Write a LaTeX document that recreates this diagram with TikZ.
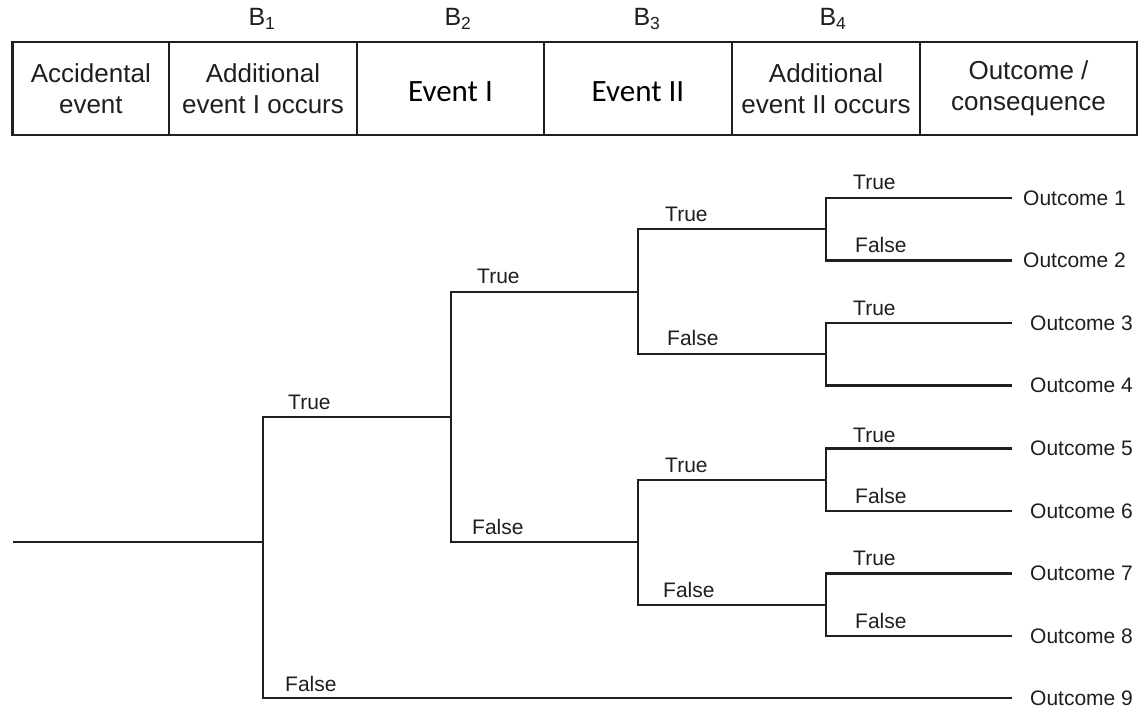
\documentclass[tikz,border=0pt]{standalone}
\usepackage{fontspec}
\setmainfont{Liberation Sans}
\newfontfamily\eventfont{Carlito}
\begin{document}
\begin{tikzpicture}[x=1pt,y=-1pt,
  inkcol/.style={draw=black!88},
  branch/.style={inkcol, line width=2.4pt, line join=miter},
  cell/.style={inkcol, line width=2.6pt, minimum height=93pt, inner sep=0pt,
    align=center, text=black!88, font=\fontsize{26}{31}\selectfont},
  evcell/.style={cell, text height=27pt, text depth=0pt,
    font=\eventfont\fontsize{31}{36}\selectfont, text=black},
  barrier/.style={anchor=base, inner sep=0pt, text=black!88, font=\fontsize{25}{29}\selectfont},
  lab/.style={anchor=base west, inner sep=0pt, text=black!88, font=\fontsize{21}{25}\selectfont},
  outc/.style={anchor=west, inner ysep=0pt, text=black!88, font=\fontsize{21}{25}\selectfont},
]
\useasboundingbox[fill=white] (0,0) rectangle (1140,708);

% header row of the event tree
\node[cell, minimum width=156.3pt] (c1) at (90.85,88.5) {Accidental\\event};
\node[cell, minimum width=188pt]   (c2) at (263,88.5)   {Additional\\event I occurs};
\node[evcell, minimum width=187pt] (c3) at (450.5,88.5) {Event I};
\node[evcell, minimum width=188pt] (c4) at (638,88.5)   {Event II};
\node[cell, minimum width=188pt]   (c5) at (826,88.5)   {Additional\\event II occurs};
\node[cell, minimum width=217pt]   (c6) at (1028.5,88.5) {Outcome /\\consequence};

% barrier labels
\node[barrier] (b1) at (262,26) {B\textsubscript{1}};
\node[barrier] (b2) at (458,26) {B\textsubscript{2}};
\node[barrier] (b3) at (647,26) {B\textsubscript{3}};
\node[barrier] (b4) at (833,26) {B\textsubscript{4}};

% branching points
\coordinate (r0)  at (13,542);
\coordinate (n1)  at (263,542);
\coordinate (n2)  at (451,417);
\coordinate (n3a) at (638,292);
\coordinate (n3b) at (638,542);
\coordinate (n4a) at (826,229);
\coordinate (n4b) at (826,354);
\coordinate (n4c) at (826,480);
\coordinate (n4d) at (826,605);

% outcomes
\node[outc, inner xsep=11pt] (o1) at (1012,198)   {Outcome 1};
\node[outc, inner xsep=11pt] (o2) at (1012,260.5) {Outcome 2};
\node[outc, inner xsep=18pt] (o3) at (1012,323)   {Outcome 3};
\node[outc, inner xsep=18pt] (o4) at (1012,385.5) {Outcome 4};
\node[outc, inner xsep=18pt] (o5) at (1012,448.5) {Outcome 5};
\node[outc, inner xsep=18pt] (o6) at (1012,511)   {Outcome 6};
\node[outc, inner xsep=18pt] (o7) at (1012,573.5) {Outcome 7};
\node[outc, inner xsep=18pt] (o8) at (1012,636)   {Outcome 8};
\node[outc, inner xsep=18pt] (o9) at (1012,698)   {Outcome 9};

% tree branches
\draw[branch] (r0) -- (n1);
\draw[branch] (n1) |- (n2);
\draw[branch] (n1) |- (o9.west);
\draw[branch] (n2) |- (n3a);
\draw[branch] (n2) |- (n3b);
\draw[branch] (n3a) |- (n4a);
\draw[branch] (n3a) |- (n4b);
\draw[branch] (n3b) |- (n4c);
\draw[branch] (n3b) |- (n4d);
\draw[branch] (n4a) |- (o1.west);
\draw[branch] (n4a) |- (o2.west);
\draw[branch] (n4b) |- (o3.west);
\draw[branch] (n4b) |- (o4.west);
\draw[branch] (n4c) |- (o5.west);
\draw[branch] (n4c) |- (o6.west);
\draw[branch] (n4d) |- (o7.west);
\draw[branch] (n4d) |- (o8.west);

% branch labels
\node[lab] (t1)  at (288,409) {True};
\node[lab] (f1)  at (285,691) {False};
\node[lab] (t2)  at (477,284) {True};
\node[lab] (f2)  at (472,534) {False};
\node[lab] (t3a) at (665,222) {True};
\node[lab] (f3a) at (667,346) {False};
\node[lab] (t3b) at (665,472) {True};
\node[lab] (f3b) at (663,597) {False};
\node[lab] (t4a) at (853,190) {True};
\node[lab] (f4a) at (855,253) {False};
\node[lab] (t4b) at (853,316) {True};
\node[lab] (t4c) at (853,442) {True};
\node[lab] (f4c) at (855,503) {False};
\node[lab] (t4d) at (853,565) {True};
\node[lab] (f4d) at (855,628) {False};
\end{tikzpicture}
\end{document}
